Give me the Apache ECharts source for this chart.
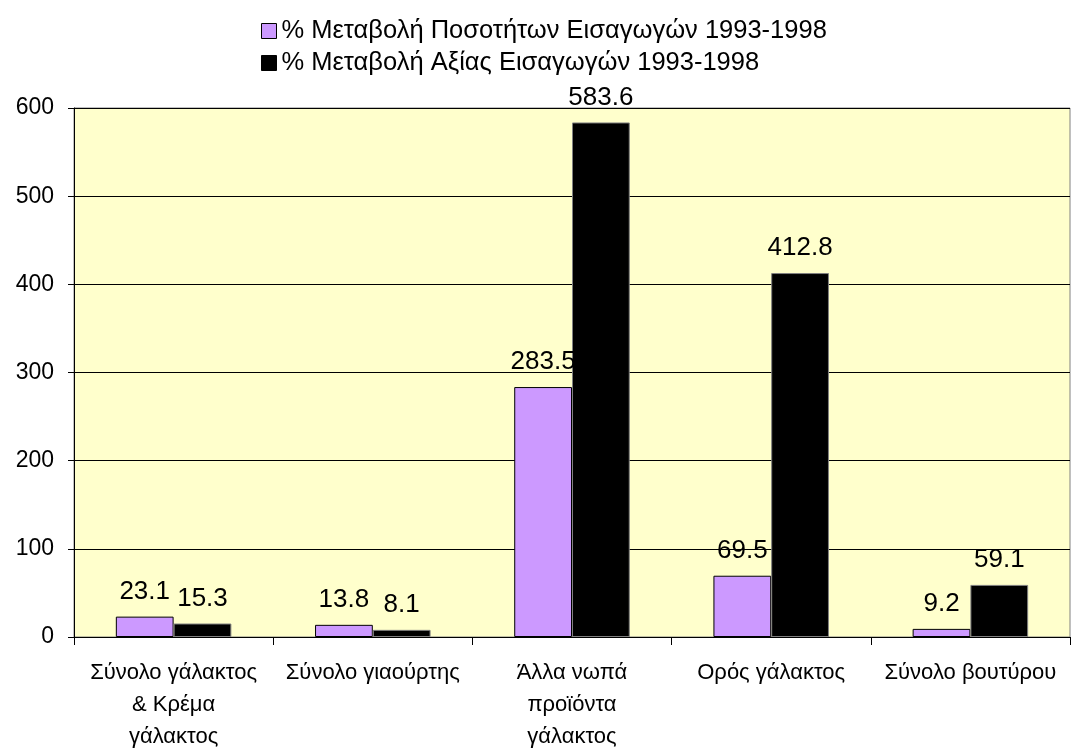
<!DOCTYPE html>
<html><head><meta charset="utf-8">
<script src="https://cdn.jsdelivr.net/npm/echarts@6/dist/echarts.min.js"></script>
<style>html,body{margin:0;padding:0;background:#fff}#c{width:1071px;height:749px}</style>
</head><body><div id="c"></div>
<script>
const categories = ["Σύνολο γάλακτος\n& Κρέμα\nγάλακτος", "Σύνολο γιαούρτης", "Άλλα νωπά\nπροϊόντα\nγάλακτος", "Ορός γάλακτος", "Σύνολο βουτύρου"];
const quantityChange = [23.1, 13.8, 283.5, 69.5, 9.2];
const valueChange = [15.3, 8.1, 583.6, 412.8, 59.1];
const seriesNames = ["% Μεταβολή Ποσοτήτων Εισαγωγών 1993-1998", "% Μεταβολή Αξίας Εισαγωγών 1993-1998"];
const yTicks = [0, 100, 200, 300, 400, 500, 600];

const font = "'Liberation Sans', Arial, sans-serif";
const chart = echarts.init(document.getElementById('c'));
const lbl = {show: true, position: 'top', distance: 12, color: '#000', fontSize: 26, fontFamily: font, formatter: p => p.value.toFixed(1)};
chart.setOption({
  animation: false,
  textStyle: {fontFamily: font},
  legend: {
    orient: 'vertical', left: 256, top: 13, itemWidth: 15, itemHeight: 15, itemGap: 6,
    textStyle: {fontSize: 25.5, color: '#000', fontFamily: font}, icon: 'rect',
    data: [
      {name: seriesNames[0], itemStyle: {borderColor: '#000', borderWidth: 1}},
      {name: seriesNames[1], itemStyle: {borderColor: '#000', borderWidth: 1}}
    ]
  },
  grid: {left: 74, right: 1, top: 108, bottom: 112, outerBoundsMode: 'none', containLabel: false, show: true, backgroundColor: '#FFFFCC', borderColor: '#808080', borderWidth: 1},
  xAxis: {
    type: 'category', data: categories,
    axisLine: {lineStyle: {color: '#000'}},
    axisTick: {show: true, length: 8, lineStyle: {color: '#000'}},
    axisLabel: {fontSize: 22, color: '#000', lineHeight: 32, margin: 20, interval: 0, fontFamily: font}
  },
  yAxis: {
    type: 'value', min: yTicks[0], max: yTicks[yTicks.length - 1], interval: 100,
    axisLine: {show: true, lineStyle: {color: '#000'}},
    axisTick: {show: true, length: 6, lineStyle: {color: '#000'}},
    splitLine: {lineStyle: {color: '#000'}},
    axisLabel: {fontSize: 23, color: '#000', margin: 20, fontFamily: font}
  },
  series: [
    {name: seriesNames[0], type: 'bar', data: quantityChange, barGap: '0%', barCategoryGap: '42%',
     itemStyle: {color: '#CC99FF', borderColor: '#000', borderWidth: 1}, label: lbl},
    {name: seriesNames[1], type: 'bar', data: valueChange,
     itemStyle: {color: '#000', borderColor: '#808080', borderWidth: 1}, label: lbl}
  ]
});
</script></body></html>
